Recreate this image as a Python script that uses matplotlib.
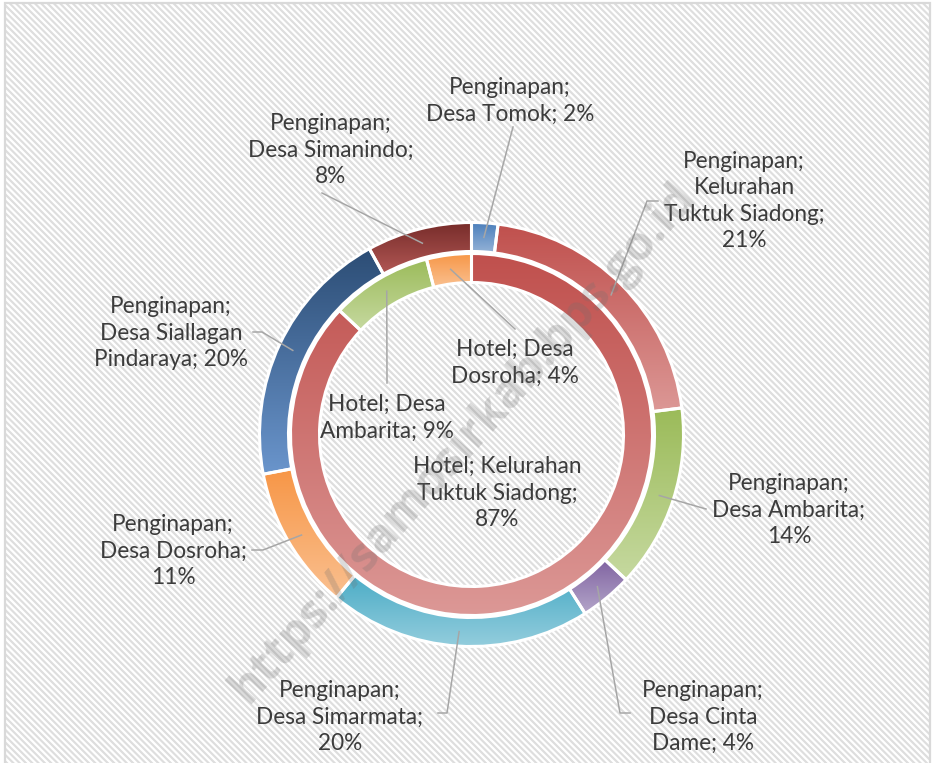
import numpy as np
import matplotlib
matplotlib.use("Agg")
import matplotlib.pyplot as plt
from matplotlib.colors import to_rgb

# outer ring: Penginapan, inner ring: Hotel (clockwise from 12 o'clock)
outer_series = "Penginapan"
outer_names = ["Desa Tomok", "Kelurahan\nTuktuk Siadong", "Desa Ambarita", "Desa Cinta\nDame",
               "Desa Simarmata", "Desa Dosroha", "Desa Siallagan\nPindaraya", "Desa Simanindo"]
outer_values = [2, 21, 14, 4, 20, 11, 20, 8]
outer_pct_break = [" ", "\n", "\n", " ", "\n", "\n", " ", "\n"]

inner_series = "Hotel"
inner_names = ["Kelurahan\nTuktuk Siadong", "Desa\nAmbarita", "Desa\nDosroha"]
inner_values = [87, 9, 4]
inner_pct_break = ["\n", " ", " "]

# gradient (top, bottom) per slice
outer_colors = [("#4a7ebb", "#95b3d7"), ("#c0504d", "#dc9896"), ("#9bbb59", "#c6d9a0"),
                ("#7f63a1", "#b4a5c9"), ("#4bacc6", "#93cddd"), ("#f79646", "#fac090"),
                ("#2c4d75", "#6a95cc"), ("#772c2a", "#b25855")]
inner_colors = [("#c0504d", "#dc9896"), ("#9bbb59", "#c6d9a0"), ("#f79646", "#fac090")]

W, H = 933, 763
CX, CY = 471.5, 434.5
R_OUT, R_IN, RING = 212, 181, 29

# label layout in pixel coords (x right, y down)
outer_label_xy = [(510, 101), (744, 201), (789, 510), (703, 717),
                  (340, 717), (173, 551), (171, 333), (331, 150)]
outer_leader = [[(513, 127)], [(647, 201), (658, 201)], [(706, 509)], [(620, 713), (630, 713)],
                [(447, 713), (438, 713)], [(263, 550), (252, 550)], [(262, 332), (253, 332)],
                [(322, 193)]]
inner_label_xy = [(497, 493), (387, 418), (515, 363)]
inner_leader = [None, [(387, 383)], [(515, 329)]]

TEXT = "#3c3c3c"
LINE = "#a6a6a6"
FONT = "Lato"


def fy(y):
    return H - y


fig = plt.figure(figsize=(W / 100, H / 100), dpi=100)
ax = fig.add_axes([0, 0, 1, 1])

# striped background inside the border
xs = np.arange(W)
ys = np.arange(H)
phase = (xs[None, :] - ys[:, None]) / 6.3
stripe = np.clip(0.5 + 0.8 * np.cos(2 * np.pi * phase), 0, 1)
bg = 1 - 0.13 * stripe
bg[:, :6] = 1
bg[:, 929:] = 1
bg[:4, :] = 1
ax.imshow(bg, cmap="gray", vmin=0, vmax=1, extent=(0, W, 0, H), origin="upper",
          interpolation="nearest", zorder=0)
ax.plot([5, 5, 930, 930], [0, fy(3), fy(3), 0], color="#d9d9d9", lw=1.6, zorder=0.5,
        solid_joinstyle="miter")


def ring(values, radius, colors):
    wedges, _ = ax.pie(values, radius=radius, center=(CX, fy(CY)), startangle=90,
                       counterclock=False,
                       wedgeprops=dict(width=RING, edgecolor="white", linewidth=2.2,
                                       facecolor="none"))
    for w, (top, bot) in zip(wedges, colors):
        w.set_zorder(3)
        ext = w.get_path().get_extents()
        t = np.linspace(0, 1, 256)[:, None]
        grad = (1 - t) * np.array(to_rgb(top)) + t * np.array(to_rgb(bot))
        grad = np.repeat(grad[:, None, :], 2, axis=1)
        im = ax.imshow(grad, extent=(ext.x0, ext.x1, ext.y0, ext.y1), origin="upper",
                       interpolation="bilinear", zorder=2)
        im.set_clip_path(w)
    return wedges


outer_w = ring(outer_values, R_OUT, outer_colors)
inner_w = ring(inner_values, R_IN, inner_colors)


def labels(wedges, series, names, values, brk, xy, leaders, first_sep):
    for w, name, v, b, (lx, ly), lead in zip(wedges, names, values, brk, xy, leaders):
        txt = f"{series};{first_sep}{name};{b}{v}%"
        ax.text(lx, fy(ly), txt, ha="center", va="center", multialignment="center",
                color=TEXT, fontsize=16.3, family=FONT, linespacing=1.32, zorder=5)
        if lead is None:
            continue
        mid = np.deg2rad((w.theta1 + w.theta2) / 2)
        r = w.r - w.width / 2
        px = [CX + r * np.cos(mid)] + [p[0] for p in lead]
        py = [fy(CY) + r * np.sin(mid)] + [fy(p[1]) for p in lead]
        ax.plot(px, py, color=LINE, lw=1.1, zorder=4)


labels(outer_w, outer_series, outer_names, outer_values, outer_pct_break,
       outer_label_xy, outer_leader, "\n")
labels(inner_w, inner_series, inner_names, inner_values, inner_pct_break,
       inner_label_xy, inner_leader, " ")

# watermark
ax.text(463, fy(443), "https://samosirkab.bps.go.id", rotation=48.5, rotation_mode="anchor",
        ha="center", va="center", fontsize=34, fontweight="bold", family="Open Sans",
        color="#6f6f6f", alpha=0.25, zorder=6)

ax.set_xlim(0, W)
ax.set_ylim(0, H)
ax.set_aspect("auto")
ax.axis("off")
fig.savefig("out.png", dpi=100)
